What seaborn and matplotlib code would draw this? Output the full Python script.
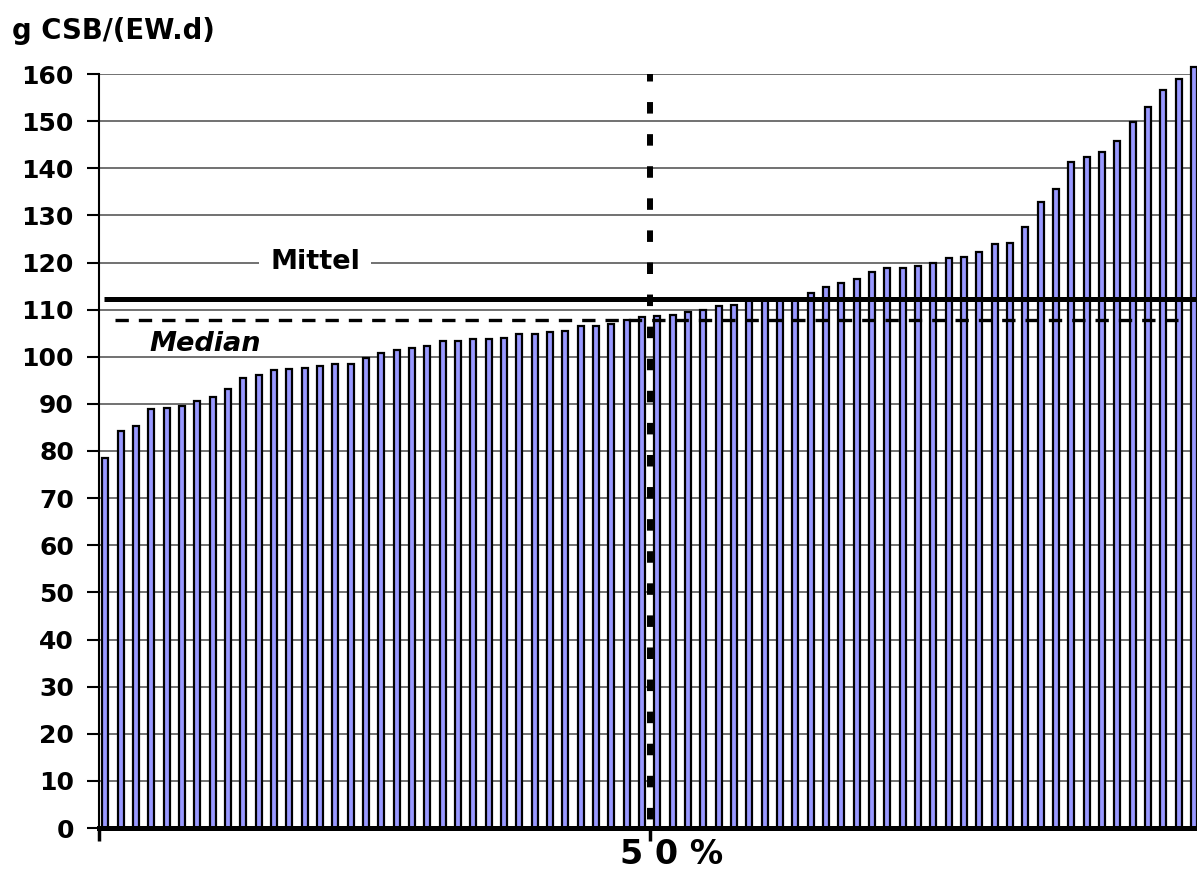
import matplotlib
matplotlib.use("Agg")
import matplotlib.pyplot as plt
import matplotlib.transforms as mtransforms
import numpy as np
import pandas as pd
import seaborn as sns

# CSB-Fracht je Einwohner und Tag, aufsteigend sortiert
csb_werte = [
    78.6, 84.3, 85.4, 89.0, 89.2, 89.6, 90.7, 91.4, 93.2, 95.4,
    96.1, 97.2, 97.4, 97.7, 98.0, 98.5, 98.5, 99.7, 100.9, 101.4,
    101.9, 102.3, 103.3, 103.3, 103.8, 103.8, 104.0, 104.8, 104.8, 105.2,
    105.5, 106.5, 106.5, 106.9, 107.9, 108.5, 108.6, 108.9, 109.5, 109.9,
    110.8, 111.0, 112.0, 112.1, 112.2, 112.3, 113.6, 114.7, 115.7, 116.6,
    118.0, 118.8, 118.9, 119.3, 119.8, 120.9, 121.1, 122.3, 123.9, 124.2,
    127.6, 132.9, 135.7, 141.3, 142.3, 143.4, 145.8, 149.8, 152.9, 156.7,
    158.9, 161.5,
]
mittelwert = 112.3
median_wert = 107.7
y_ticks = list(range(0, 161, 10))
titel = "g CSB/(EW.d)"
label_mitte = "5 0 %"
label_mittel = "Mittel"
label_median = "Median"

sns.set_style("white")
plt.rcParams["font.family"] = ["DejaVu Sans"]
plt.rcParams["font.weight"] = "bold"
plt.rcParams["text.color"] = "black"
plt.rcParams["axes.labelcolor"] = "black"
plt.rcParams["xtick.color"] = "black"
plt.rcParams["ytick.color"] = "black"
plt.rcParams["lines.scale_dashes"] = False

df = pd.DataFrame({"rang": np.arange(len(csb_werte)), "csb": csb_werte})

W, H = 1197, 876
fig = plt.figure(figsize=(W / 100, H / 100), dpi=100)
ax = fig.add_axes([99 / W, 48 / H, 1098 / W, 754 / H])

sns.barplot(
    data=df, x="rang", y="csb", color="#9999FF", saturation=1,
    width=0.38, edgecolor="black", linewidth=1.6, errorbar=None, ax=ax,
)
for p in ax.patches:
    p.set_clip_on(False)

ax.set_xlim(-0.41, 71.2)
ax.set_ylim(0, 160)
ax.set_xlabel("")
ax.set_ylabel("")

# horizontal grid behind the bars
ax.set_axisbelow(True)
ax.yaxis.grid(True, color="#4a4a4a", linewidth=1.1)
ax.xaxis.grid(False)

for side in ("top", "right"):
    ax.spines[side].set_visible(False)
ax.spines["left"].set_linewidth(1.5)
ax.spines["left"].set_color("black")
ax.spines["bottom"].set_linewidth(3.6)
ax.spines["bottom"].set_color("black")

ax.set_yticks(y_ticks)
ax.set_yticklabels([str(v) for v in y_ticks])
ax.tick_params(axis="y", direction="out", length=9, width=1.5, pad=9,
               labelsize=18, colors="black", left=True)

mitte = (len(csb_werte) - 1) / 2
ax.set_xticks([ax.get_xlim()[0], mitte])
ax.set_xticklabels(["", ""])
ax.tick_params(axis="x", direction="out", length=9, width=2.5, bottom=True,
               colors="black")

# mean line
ax.axhline(mittelwert, xmin=0.0046, xmax=1.0, color="black", linewidth=3.6,
           solid_capstyle="butt", zorder=4)
# median line
ax.axhline(median_wert, xmin=0.0146, xmax=0.983, color="black", linewidth=2.4,
           linestyle=(0, (9.6, 7.2)), zorder=4)
# 50 % marker
ax.plot([mitte, mitte], [160, 0], color="black", linewidth=4.3,
        linestyle=(2.9, (8.3, 14.8)), zorder=5, dash_capstyle="butt")

ax.text(13.68, 120.1, label_mittel, ha="center", va="center", fontsize=19.5,
        fontweight="bold", color="black", zorder=3,
        bbox=dict(facecolor="white", edgecolor="none",
                  boxstyle="square,pad=0.4"))
ax.text(6.5, 102.7, label_median, ha="center", va="center", fontsize=19.5,
        fontweight="bold", fontstyle="italic", color="black", zorder=3)

trans = mtransforms.blended_transform_factory(ax.transData, ax.transAxes)
ax.text(mitte + 1.4, -0.035, label_mitte, transform=trans, ha="center",
        va="center", fontsize=24, fontweight="bold", color="black")

fig.text(12 / W, 1 - 39 / H, titel, ha="left", va="baseline", fontsize=19.8,
         fontweight="bold", color="black")

fig.savefig("out.png", dpi=100)
